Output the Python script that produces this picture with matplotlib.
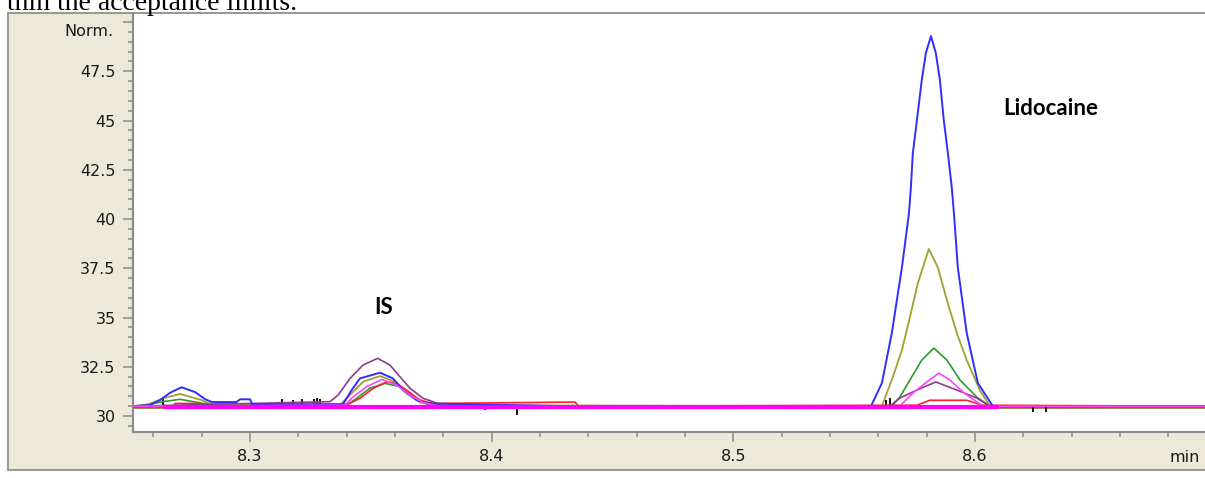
import matplotlib
matplotlib.use("Agg")
import matplotlib.pyplot as plt
from matplotlib.patches import Rectangle
from matplotlib.ticker import MultipleLocator

# chromatogram traces (time in min, signal in Norm.)
t_blue = [8.2516, 8.2586, 8.2628, 8.2669, 8.2717, 8.2772, 8.2814, 8.2842, 8.2945, 8.2959, 8.3000, 8.3010,
          8.3385, 8.3421, 8.3455, 8.3538, 8.3592, 8.3633, 8.3690, 8.3731, 8.4520, 8.4560, 8.4600,
          8.5570, 8.5615, 8.5656, 8.5698, 8.5727, 8.5735, 8.5743, 8.5760, 8.5780, 8.5797, 8.5818,
          8.5838, 8.5855, 8.5871, 8.5888, 8.5904, 8.5913, 8.5929, 8.5966, 8.6012, 8.6074, 8.6952]
v_blue = [30.50, 30.56, 30.81, 31.18, 31.46, 31.22, 30.86, 30.71, 30.71, 30.85, 30.85, 30.60,
          30.60, 31.32, 31.91, 32.20, 31.91, 31.32, 30.81, 30.64, 30.45, 30.42, 30.48,
          30.50, 31.68, 34.21, 37.56, 40.30, 41.62, 43.35, 45.03, 47.06, 48.43, 49.29,
          48.43, 47.06, 45.03, 43.35, 41.62, 40.30, 37.56, 34.21, 31.68, 30.50, 30.50]

t_olive = [8.2516, 8.2580, 8.2641, 8.2710, 8.2800, 8.2835, 8.3372, 8.3414, 8.3468, 8.3538, 8.3600,
           8.3648, 8.3703, 8.3760, 8.5615, 8.5660, 8.5698, 8.5731, 8.5764, 8.5809, 8.5846, 8.5884,
           8.5925, 8.5966, 8.6020, 8.6062, 8.6952]
v_olive = [30.50, 30.60, 30.90, 31.12, 30.81, 30.62, 30.56, 31.07, 31.74, 32.03, 31.74,
           31.15, 30.70, 30.55, 30.50, 31.98, 33.35, 35.03, 36.75, 38.48, 37.56, 35.89,
           34.21, 32.84, 31.32, 30.50, 30.50]

t_green = [8.2516, 8.2641, 8.2710, 8.2807, 8.3400, 8.3441, 8.3496, 8.3559, 8.3621, 8.3676, 8.3731,
           8.3800, 8.5656, 8.5689, 8.5731, 8.5780, 8.5830, 8.5884, 8.5938, 8.6008, 8.6062, 8.6952]
v_green = [30.45, 30.73, 30.85, 30.64, 30.55, 30.90, 31.41, 31.66, 31.49, 30.98, 30.65,
           30.48, 30.50, 30.96, 31.83, 32.84, 33.45, 32.84, 31.83, 30.96, 30.50, 30.45]

t_pink = [8.2516, 8.3393, 8.3427, 8.3483, 8.3545, 8.3607, 8.3662, 8.3717, 8.3780,
          8.5689, 8.5743, 8.5801, 8.5851, 8.5896, 8.5950, 8.6033, 8.6952]
v_pink = [30.50, 30.55, 30.98, 31.49, 31.86, 31.57, 31.07, 30.68, 30.50,
          30.50, 31.17, 31.73, 32.18, 31.83, 31.22, 30.50, 30.50]

t_purple = [8.2516, 8.3331, 8.3365, 8.3414, 8.3468, 8.3528, 8.3579, 8.3621, 8.3662, 8.3716, 8.3757,
            8.3800, 8.5648, 8.5689, 8.5760, 8.5838, 8.5925, 8.6008, 8.6062, 8.6952]
v_purple = [30.50, 30.73, 31.07, 31.91, 32.59, 32.93, 32.59, 31.99, 31.41, 30.90, 30.73,
            30.50, 30.50, 30.91, 31.32, 31.73, 31.32, 30.91, 30.50, 30.50]

t_red = [8.2516, 8.2681, 8.2690, 8.2793, 8.2800, 8.3406, 8.3455, 8.3510, 8.3566, 8.3607, 8.3648,
         8.3703, 8.3758, 8.4345, 8.4360, 8.5760, 8.5813, 8.5966, 8.6033, 8.6952]
v_red = [30.50, 30.50, 30.64, 30.64, 30.50, 30.60, 30.90, 31.41, 31.74, 31.66, 31.32,
         30.81, 30.64, 30.71, 30.50, 30.55, 30.80, 30.80, 30.55, 30.50]

# black trace: flat baseline with short spikes
t_black = [8.2516, 8.6952]
v_black = [30.50, 30.50]
spike_t = [8.2641, 8.3132, 8.3180, 8.3215, 8.3263, 8.3277, 8.3290, 8.3972, 8.4105, 8.5631, 8.5648, 8.6240, 8.6295]
spike_v = [30.96, 30.85, 30.80, 30.85, 30.85, 30.90, 30.85, 30.30, 30.05, 30.80, 30.90, 30.20, 30.20]

t_brown = [8.2516, 8.6952]
v_brown = [30.42, 30.42]

# blank (thick magenta)
t_blank = [8.2641, 8.6100]
v_blank = [30.46, 30.46]

yticks = [30, 32.5, 35, 37.5, 40, 42.5, 45, 47.5, 50]
ylabels = ["30", "32.5", "35", "37.5", "40", "42.5", "45", "47.5", ""]
xticks = [8.3, 8.4, 8.5, 8.6]
xlabels = ["8.3", "8.4", "8.5", "8.6"]

W, H = 1205, 478
fig = plt.figure(figsize=(W / 100, H / 100), dpi=100)
fig.patch.set_facecolor("white")

# panel background like the instrument software
fig.patches.append(Rectangle((8 / W, 1 - 470 / H), 1.0, (470 - 13) / H, transform=fig.transFigure,
                             facecolor="#ECE9D8", edgecolor="#9A9A90", lw=1.5, zorder=-10))

fig.text(7 / W, 1 - 10 / H, "thin the acceptance limits.", family="Liberation Serif",
         fontsize=20, va="baseline", ha="left")

ax = fig.add_axes([133 / W, 1 - 432 / H, (W - 133) / W, (432 - 14) / H])
ax.set_zorder(1)
ax.set_facecolor("white")

ax.plot(t_brown, v_brown, color="#996633", lw=1.2, zorder=2)
ax.plot(t_black, v_black, color="black", lw=1.0, zorder=2)
ax.vlines(spike_t, 30.5, spike_v, color="black", lw=1.3, zorder=2)
ax.plot(t_green, v_green, color="#2E9A2E", lw=1.2, zorder=3)
ax.plot(t_red, v_red, color="#FF2020", lw=1.2, zorder=3)
ax.plot(t_olive, v_olive, color="#A0A030", lw=1.3, zorder=3)
ax.plot(t_purple, v_purple, color="#8E3A8E", lw=1.2, zorder=3)
ax.plot(t_blue, v_blue, color="#2E2EFF", lw=1.4, zorder=4)
ax.plot(t_pink, v_pink, color="#FF40FF", lw=1.2, zorder=4)
ax.plot(t_blank, v_blank, color="#FF00FF", lw=3.0, solid_capstyle="butt", zorder=5)

ax.set_xlim(8.2516, 8.6952)
ax.set_ylim(29.19, 50.41)

ax.set_xticks(xticks)
ax.set_xticklabels(xlabels)
ax.set_yticks(yticks)
ax.set_yticklabels(ylabels)
ax.xaxis.set_minor_locator(MultipleLocator(0.02))
ax.yaxis.set_minor_locator(MultipleLocator(0.5))
ax.tick_params(which="major", length=7.5, width=1.1, color="#8A8A8A", labelsize=11.5,
               labelcolor="#1A1A1A", pad=5)
ax.tick_params(which="minor", length=3.6, width=1.1, color="#8A8A8A")

for s in ["top", "right"]:
    ax.spines[s].set_visible(False)
for s in ["left", "bottom"]:
    ax.spines[s].set_color("#8A8A8A")
    ax.spines[s].set_linewidth(1.5)

fig.text(113 / W, 1 - 32 / H, "Norm.", fontsize=11.5, color="#1A1A1A", ha="right", va="center")
fig.text(1185 / W, 1 - 457 / H, "min", fontsize=11.5, color="#1A1A1A", ha="center", va="center")

ax.text(8.3554, 35.5, "IS", family="Lato", fontweight="bold", fontsize=16, ha="center", va="center")
ax.text(8.6314, 45.6, "Lidocaine", family="Lato", fontweight="bold", fontsize=16, ha="center", va="center")

fig.savefig("out.png", dpi=100)
